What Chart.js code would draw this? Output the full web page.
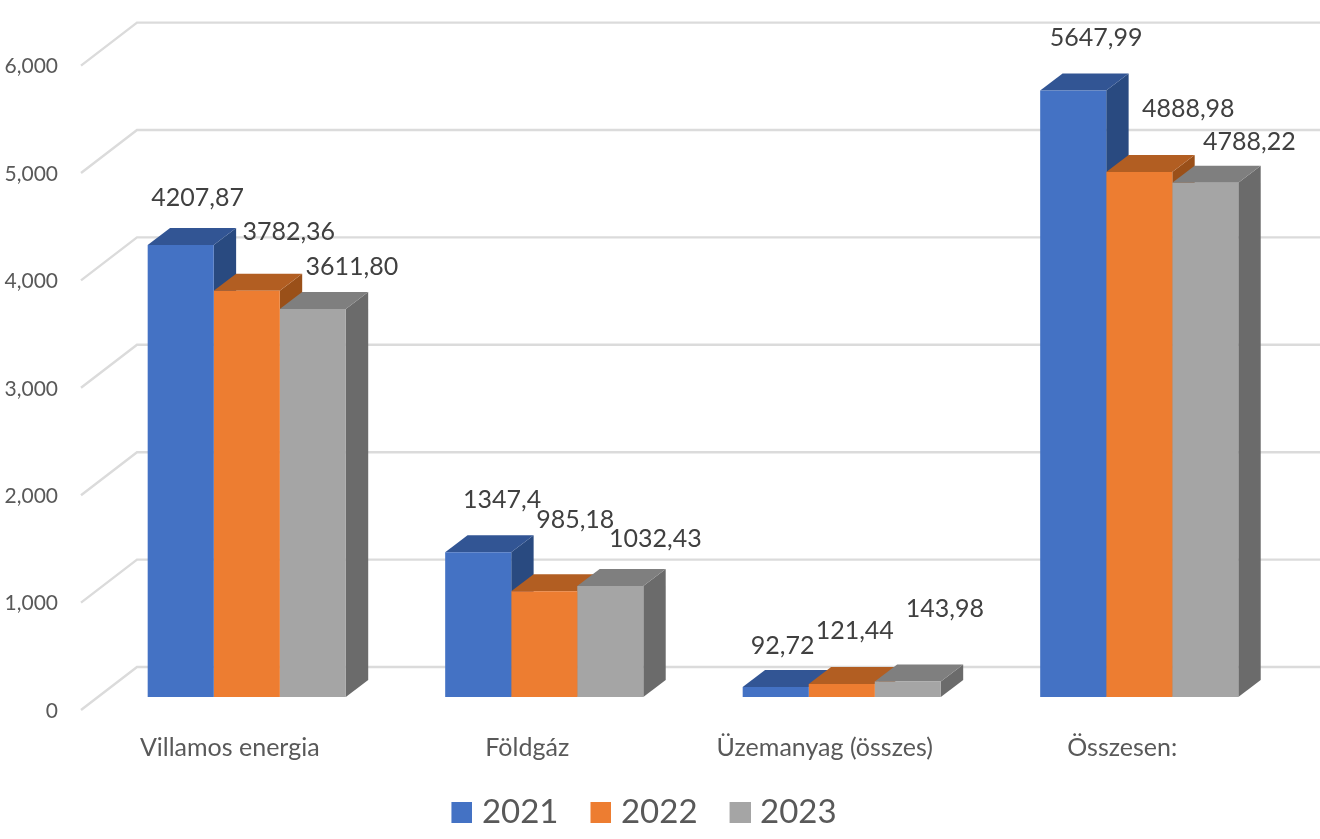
<!DOCTYPE html>
<html lang="hu">
<head>
<meta charset="utf-8">
<title>Chart</title>
<style>html,body{margin:0;padding:0;background:#fff;overflow:hidden}canvas{display:block}</style>
<script src="https://cdn.jsdelivr.net/npm/chart.js@4/dist/chart.umd.min.js"></script>
</head>
<body>
<canvas id="c" width="1320" height="839"></canvas>
<script>
const categories = ['Villamos energia', 'Földgáz', 'Üzemanyag (összes)', 'Összesen:'];
const seriesNames = ['2021', '2022', '2023'];
const values2021 = [4207.87, 1347.4, 92.72, 5647.99];
const values2022 = [3782.36, 985.18, 121.44, 4888.98];
const values2023 = [3611.80, 1032.43, 143.98, 4788.22];
const text2021 = ['4207,87', '1347,4', '92,72', '5647,99'];
const text2022 = ['3782,36', '985,18', '121,44', '4888,98'];
const text2023 = ['3611,80', '1032,43', '143,98', '4788,22'];

const FONT = 'Lato, Carlito, Calibri, sans-serif';
const front = ['#4472C4', '#ED7D31', '#A5A5A5'];
const topFace = ['#325594', '#B25E22', '#7F7F7F'];
const sideFace = ['#294A80', '#9A5019', '#6B6B6B'];
const texts = [text2021, text2022, text2023];
// label placement relative to each bar's centre/top, as hand-placed in the reference
const nudgeX = [[17, 24, 7, 23], [42, 31, 13, 49], [39, 45, 37, 44]];
const nudgeY = [[-47, -52, -41, -52], [-59, -71, -53, -63], [-42, -47, -73, -41]];
const DX = 22.4, DY = 17;

function swatch(color) {
  const cv = document.createElement('canvas');
  cv.width = 28; cv.height = 21;
  const g = cv.getContext('2d');
  g.fillStyle = color;
  g.fillRect(7, 0, 21, 21);
  return cv;
}

const fake3d = {
  id: 'fake3d',
  beforeDatasetsDraw(chart) {
    const { ctx, chartArea: a, scales: { y } } = chart;
    ctx.save();
    ctx.strokeStyle = '#DBDBDB';
    ctx.lineWidth = 2.4;
    ctx.lineJoin = 'miter';
    y.ticks.forEach(t => {
      const p = y.getPixelForValue(t.value);
      ctx.beginPath();
      ctx.moveTo(a.left - 17, p + 13);
      ctx.lineTo(a.left + 39, p - 30);
      ctx.lineTo(chart.width, p - 30);
      ctx.stroke();
    });
    chart.data.labels.forEach((_, i) => {
      chart.data.datasets.forEach((ds, d) => {
        const b = chart.getDatasetMeta(d).data[i];
        const l = b.x - b.width / 2, r = b.x + b.width / 2;
        ctx.fillStyle = sideFace[d];
        ctx.beginPath();
        ctx.moveTo(r, b.y); ctx.lineTo(r + DX, b.y - DY);
        ctx.lineTo(r + DX, b.base - DY); ctx.lineTo(r, b.base);
        ctx.closePath(); ctx.fill();
        ctx.fillStyle = topFace[d];
        ctx.beginPath();
        ctx.moveTo(l, b.y); ctx.lineTo(l + DX, b.y - DY);
        ctx.lineTo(r + DX, b.y - DY); ctx.lineTo(r, b.y);
        ctx.closePath(); ctx.fill();
      });
    });
    ctx.restore();
  },
  afterDatasetsDraw(chart) {
    const { ctx } = chart;
    ctx.save();
    ctx.font = '25px ' + FONT;
    ctx.fillStyle = '#404040';
    ctx.textAlign = 'center';
    ctx.textBaseline = 'middle';
    chart.data.datasets.forEach((ds, d) => {
      chart.getDatasetMeta(d).data.forEach((b, i) => {
        ctx.fillText(texts[d][i], b.x + nudgeX[d][i], b.y + nudgeY[d][i]);
      });
    });
    ctx.restore();
  }
};

new Chart(document.getElementById('c'), {
  type: 'bar',
  data: {
    labels: categories,
    datasets: [
      { label: seriesNames[0], data: values2021, backgroundColor: front[0] },
      { label: seriesNames[1], data: values2022, backgroundColor: front[1] },
      { label: seriesNames[2], data: values2023, backgroundColor: front[2] }
    ]
  },
  options: {
    responsive: false,
    animation: false,
    categoryPercentage: 0.666,
    barPercentage: 1,
    layout: { padding: { top: 47, right: 32, left: 0, bottom: 0 } },
    scales: {
      x: {
        grid: { display: false, drawTicks: false },
        border: { display: false },
        afterFit(s) { s.height = 67; },
        ticks: { color: '#595959', font: { family: FONT, size: 25 }, padding: 36, labelOffset: -17, maxRotation: 0, autoSkip: false }
      },
      y: {
        min: 0, max: 6000,
        grid: { display: false, drawTicks: false },
        border: { display: false },
        afterFit(s) { s.width = 98; },
        ticks: { stepSize: 1000, color: '#595959', font: { family: FONT, size: 21 }, padding: 40, labelOffset: 14 }
      }
    },
    plugins: {
      tooltip: { enabled: false },
      legend: {
        position: 'bottom',
        labels: {
          usePointStyle: true,
          pointStyleWidth: 14,
          padding: 32,
          color: '#595959',
          font: { family: FONT, size: 33 },
          generateLabels(chart) {
            return chart.data.datasets.map((ds, d) => ({
              text: ds.label, datasetIndex: d, fontColor: '#595959',
              pointStyle: swatch(front[d]), fillStyle: front[d], strokeStyle: front[d], lineWidth: 0
            }));
          }
        }
      }
    }
  },
  plugins: [fake3d]
});
</script>
</body>
</html>
